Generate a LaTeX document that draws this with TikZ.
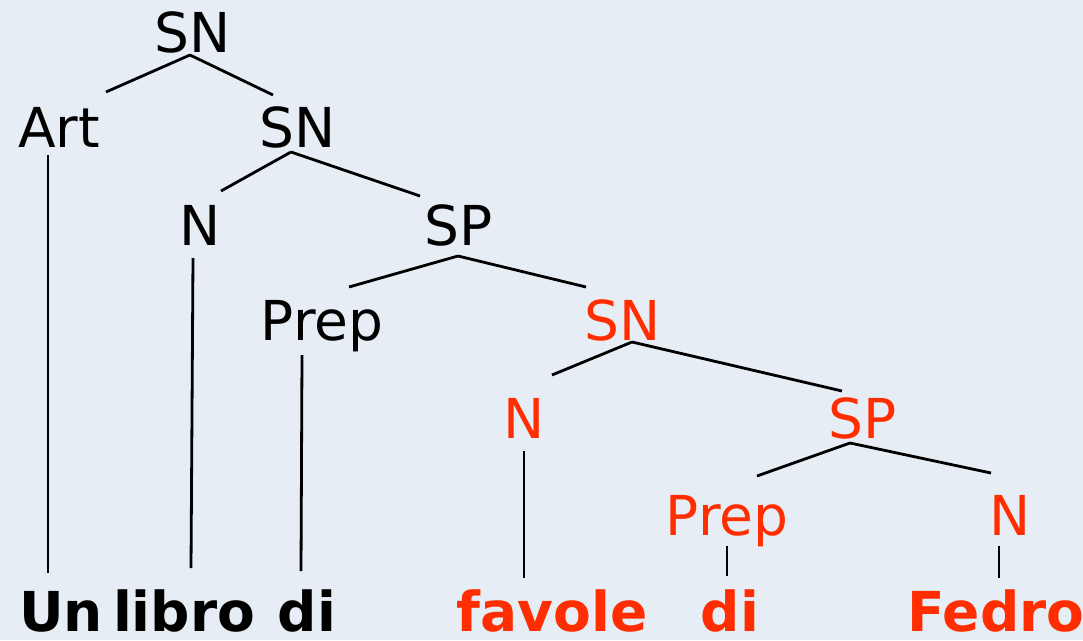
\documentclass[tikz,border=0pt]{standalone}
\usepackage{fontspec}
\setmainfont{DejaVu Sans}
\usetikzlibrary{calc}
\definecolor{paper}{RGB}{231,237,244}
\definecolor{accent}{RGB}{255,45,0}
\begin{document}
\begin{tikzpicture}[x=1pt,y=-1pt,
  cat/.style={inner sep=0pt,anchor=base,font=\fontsize{55}{60}\selectfont},
  word/.style={inner sep=0pt,anchor=base,font=\fontsize{55}{60}\selectfont\bfseries},
  hl/.style={text=accent},
  edge/.style={line width=2.8pt,black}]
\useasboundingbox (0,0) rectangle (1083,640);
\fill[paper] (0,0) rectangle (1083,640);

% category labels
\node[cat] (sn1) at (193,52) {SN};
\node[cat] (art) at (59,147) {Art};
\node[cat] (sn2) at (298,147) {SN};
\node[cat] (n1) at (200,245) {N};
\node[cat] (sp1) at (459,245) {SP};
\node[cat] (prep1) at (322,340) {Prep};
\node[cat,hl] (sn3) at (623,340) {SN};
\node[cat,hl] (n2) at (524,438) {N};
\node[cat,hl] (sp2) at (863,438) {SP};
\node[cat,hl] (prep2) at (727,535) {Prep};
\node[cat,hl] (n3) at (1010,535) {N};

% words
\node[word] (un) at (61,631) {Un};
\node[word] (libro) at (184,631) {libro};
\node[word] (di1) at (307,631) {di};
\node[word,hl] (favole) at (552,631) {favole};
\node[word,hl] (di2) at (730,631) {di};
\node[word,hl] (fedro) at (996,631) {Fedro};

% branches
\draw[edge] ($(sn1.base)+(-3,3)$) -- ($(art.base)+(47,-55)$);
\draw[edge] ($(sn1.base)+(-3,3)$) -- ($(sn2.base)+(-25,-52)$);
\draw[edge] ($(art.base)+(-11,8)$) -- ($(un.base)+(-13,-58)$);
\draw[edge] ($(sn2.base)+(-7,5)$) -- ($(n1.base)+(21,-54)$);
\draw[edge] ($(sn2.base)+(-7,5)$) -- ($(sp1.base)+(-39,-49)$);
\draw[edge] ($(n1.base)+(-7,13)$) -- ($(libro.base)+(7,-63)$);
\draw[edge] ($(sp1.base)+(-1,11)$) -- ($(prep1.base)+(27,-53)$);
\draw[edge] ($(sp1.base)+(-1,11)$) -- ($(sn3.base)+(-37,-53)$);
\draw[edge] ($(prep1.base)+(-20,15)$) -- ($(di1.base)+(-6,-60)$);
\draw[edge] ($(sn3.base)+(9,2)$) -- ($(n2.base)+(28,-63)$);
\draw[edge] ($(sn3.base)+(9,2)$) -- ($(sp2.base)+(-21,-47)$);
\draw[edge] ($(n2.base)+(0,13)$) -- ($(favole.base)+(-28,-53)$);
\draw[edge] ($(sp2.base)+(-13,5)$) -- ($(prep2.base)+(30,-59)$);
\draw[edge] ($(sp2.base)+(-13,5)$) -- ($(n3.base)+(-19,-62)$);
\draw[edge] ($(prep2.base)+(0,11)$) -- ($(di2.base)+(-3,-55)$);
\draw[edge] ($(n3.base)+(-11,11)$) -- ($(fedro.base)+(3,-53)$);
\end{tikzpicture}
\end{document}
